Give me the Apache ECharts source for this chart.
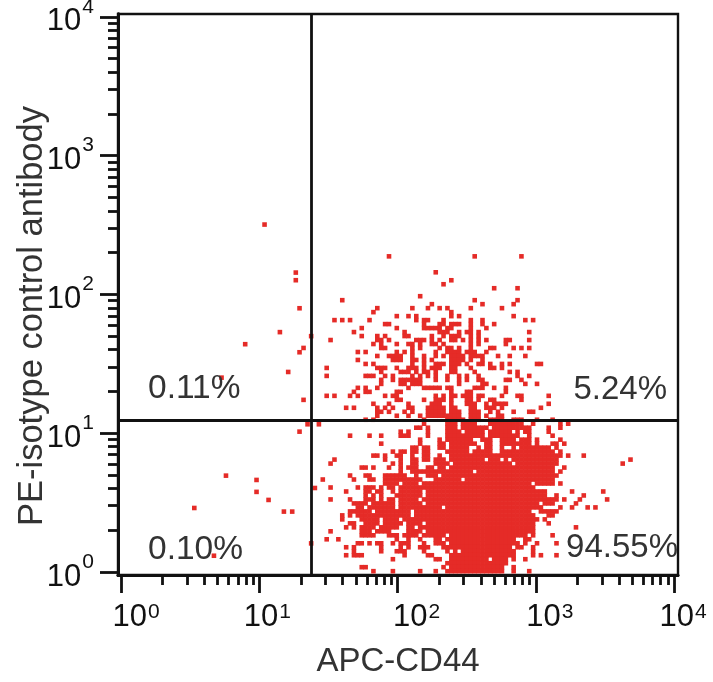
<!DOCTYPE html>
<html><head><meta charset="utf-8">
<style>html,body{margin:0;padding:0;background:#fff}#c{width:713px;height:682px}</style>
<script src="https://cdn.jsdelivr.net/npm/echarts@6/dist/echarts.min.js"></script>
</head><body><div id="c"></div>
<script>
// ---------- DATA ----------
const xTitle = 'APC-CD44';
const yTitle = 'PE-isotype control antibody';
const decades = [1, 10, 100, 1000, 10000];
const minorSteps = [2, 3, 4, 5, 6, 7, 8, 9];
const gateX = 23.8;
const gateY = 12.46;
const quadrantLabels = ['0.11%', '5.24%', '0.10%', '94.55%'];
// sparse events outside the main cloud, as [log10 APC, log10 PE]
const sparseEvents = [
 [1.038,2.503],[1.264,2.157],[1.264,2.102],[1.291,1.900],[1.149,1.728],[0.898,1.641],[1.320,1.614],[1.291,1.583],
 [1.209,1.441],[0.727,1.400],[1.320,1.240],[1.375,1.699],[1.349,1.064],[1.431,1.064],[1.291,1.011],[0.759,0.694],
 [0.980,0.663],[0.980,0.577],[1.067,0.519],[1.178,0.435],[1.238,0.435],[0.530,0.461],[1.402,0.605],[1.375,0.206],[0.672,0.117]
];
// main cloud as histogram channels, run-length coded: [PE channel, APC from, APC to, APC from, APC to, ...]
const channelRows = [
 [79,18,18,40,40,52,52],[75,30,30],[73,34,34],[72,32,32],[71,45,45,51,51],[69,26,26],[68,6,6,40,40,51,51],[67,29,29,42,42,50,50],
 [66,15,15,24,24,28,28,31,31,33,33,39,39,47,47],[65,14,14,34,34],[64,20,20,23,23,25,25,34,34,36,36,50,50],
 [63,4,4,6,6,8,8,13,13,25,25,27,28,32,32,39,39,42,42,53,53,55,55],
 [62,17,18,27,27,31,32,34,36,39,39,42,42,45,45],
 [61,11,11,20,20,27,29,30,31,33,34,39,39,43,43],
 [60,9,9,22,22,31,33,36,36,38,39,41,41,54,54],
 [59,11,11,15,15,17,17,22,23,29,29,32,32,34,36,39,39,41,41],
 [58,3,3,15,16,18,18,25,27,29,29,31,31,34,35,37,37,39,39,41,41,43,43,48,49,54,54],
 [57,14,14,16,16,20,20,23,24,26,26,29,30,32,32,39,39,41,41,48,48],
 [56,16,17,24,24,26,26,31,31,33,34,36,36,39,39,44,45,50,50,52,52,54,54],
 [55,10,10,12,12,20,20,22,22,24,24,30,30,33,36,38,40,43,43],
 [54,15,15,18,18,19,21,24,24,27,27,30,30,32,32,34,37,39,40,41,42,46,46,49,49,53,53],
 [53,10,10,19,21,24,25,27,27,29,29,34,37,39,39,42,42],
 [52,12,12,14,14,24,24,27,27,30,32,34,36,38,38,41,42,44,44,47,47,49,49,56,57],
 [51,2,2,15,17,20,20,23,25,27,27,29,31,34,35,39,39,44,45,47,47],
 [50,16,16,21,23,25,25,27,28,30,30,34,35,40,40,49,49,51,51],
 [49,2,2,12,14,17,17,19,19,24,24,26,26,28,28,30,30,33,33,36,36,38,38,41,41,51,51,54,54],
 [48,16,16,19,19,21,26,30,30,33,33,36,36,38,38,41,42,48,49,52,52],
 [47,16,16,21,22,24,26,36,36,42,43,53,53,56,56],
 [46,10,10,12,12,15,15,23,23,27,31,33,34,40,42,45,45,48,48],
 [45,9,9,12,13,20,21,34,34,38,39,48,48],
 [44,2,2,4,4,8,8,10,10,17,17,19,20,30,30,32,32,34,35,37,39,41,42,47,47,51,52,59,59],
 [43,20,21,27,27,30,32,34,34,38,39,41,41,44,45,52,52],
 [42,14,14,18,18,23,23,29,31,34,34,38,40,43,43,45,48,59,59],
 [41,7,7,9,9,15,15,17,17,19,19,23,24,28,32,34,35,39,40,43,45,47,47,57,57],
 [40,15,16,18,18,22,22,24,24,28,32,34,36,39,41,44,44,46,46,50,50,54,55],
 [39,15,15,20,20,23,23,26,26,28,36,39,41,43,43,46,47],
 [38,12,12,14,14,27,27,33,37,39,41,44,47,50,52,56,56,60,60],
 [37,27,27,33,35,37,37,38,40,44,46,47,52,55,55,62,62,64,64],
 [36,25,26,28,28,33,35,37,43,45,53,54,54,59,59,62,62],
 [35,21,21,23,23,28,28,33,36,38,42,44,49,51,51,53,54,59,59],
 [34,8,8,13,13,16,16,21,23,28,28,33,42,44,46,47,51,54,54,60,60],
 [33,26,26,31,31,33,39,42,44,47,50,52,54,56,56,62,62],
 [32,16,16,26,26,31,32,34,40,43,44,47,54,56,56,60,61,63,63],
 [31,24,25,27,28,31,32,34,38,41,41,43,44,47,47,50,50,52,59,61,61],
 [30,19,19,21,22,24,25,27,28,33,38,40,44,47,60,62,62],
 [29,14,15,17,17,20,21,24,24,27,28,31,31,34,62,64,64,68,68],
 [28,4,4,17,17,21,21,24,25,27,28,30,32,34,42,44,46,48,48,50,61,80,80],
 [27,3,3,19,19,21,21,24,25,30,33,35,49,51,61,78,78],
 [26,11,12,14,14,18,18,21,21,23,25,28,29,31,32,34,60,63,63],
 [25,21,21,24,34,35,39,41,60,62,62],
 [24,8,8,12,13,17,18,19,22,25,25,28,30,32,61],
 [23,1,1,9,9,13,14,17,18,19,26,30,36,38,60],
 [22,17,18,19,20,22,25,27,54,56,60,62,62],
 [21,3,3,10,10,12,14,16,16,18,19,21,55],
 [20,7,7,12,13,15,16,19,19,21,26,28,56,57,58,65,65,73,73],
 [19,12,12,14,14,16,16,20,20,21,26,28,58,61,61,68,68],
 [18,3,3,8,8,12,14,16,16,18,19,21,25,27,60,61,61,63,63,67,67,74,74],
 [17,9,12,14,19,21,26,28,56,58,60,66,66],
 [16,10,11,13,19,21,31,33,56,57,57,62,62,65,65,69,69,71,71],
 [15,8,8,9,13,15,23,25,54,57,60,61,61],
 [14,6,6,8,8,10,23,25,55,59,60],
 [13,6,6,11,15,17,20,22,56,58,58],
 [12,8,9,12,15,17,21,23,26,28,55,59,59],
 [11,7,7,9,9,11,14,16,18,19,20,23,24,26,55,66,66],
 [10,3,3,11,13,15,18,23,26,28,55],
 [9,11,14,18,20,22,25,27,32,34,53,55,55,60,60],
 [8,2,2,5,5,20,20,23,23,26,26,30,31,33,50,53,54],
 [7,10,11,13,13,15,16,19,19,21,23,27,27,30,32,34,50,51,51,53,53,56,56,61,61],
 [6,7,7,9,9,16,16,21,21,23,23,26,28,32,32,33,49,51,52,55,55],
 [5,9,9,16,16,20,22,27,27,33,33,35,35,37,49,50,50,55,55],
 [4,7,7,9,11,22,22,28,29,34,49,50,50,55,55,57,57,61,61],
 [3,19,19,30,31,34,37,38,43,45,48,50,50,53,53],
 [2,33,48],
 [1,11,12,32,32,34,47,50,50],
 [0,14,14,19,19,26,26,30,30,33,36,37,47,50,50,54,54]
];
// ---------- CHANNEL SCALE ----------
const channelsPerDecadeX = 35.5, channelOriginX = 50.8;
const channelsPerDecadeY = 34.83, channelOriginY = 0.2;
const points = [];
sparseEvents.forEach(p => points.push([Math.pow(10, p[0]), Math.pow(10, p[1])]));
channelRows.forEach(row => {
  const y = Math.pow(10, (row[0] + channelOriginY) / channelsPerDecadeY);
  for (let i = 1; i < row.length; i += 2)
    for (let c = row[i]; c <= row[i + 1]; c++)
      points.push([Math.pow(10, (c + channelOriginX) / channelsPerDecadeX), y]);
});
const minorValues = [];
decades.slice(0, -1).forEach(d => minorSteps.forEach(s => minorValues.push(d * s)));
const ink = '#111', labelInk = '#333', red = '#e52b27';
const xMin = 0.951, xMax = 10665, yMin = 0.951, yMax = 10470;
const supFmt = v => Math.round(Math.log10(v));
const xRich = {s: {fontSize: 21, fontFamily: 'Liberation Sans', color: ink, verticalAlign: 'top', padding: [0,0,0,1]}};
[30, 16, 38, 28, 18].forEach((pad, i) => { xRich['d' + i] = {fontSize: 31, fontFamily: 'Liberation Sans', color: ink, padding: [0, 0, 0, pad]}; });
const baseAxis = {axisLine: {show: true, lineStyle: {color: ink, width: 2.8}}, splitLine: {show: false}, minorTick: {show: false}};
const chart = echarts.init(document.getElementById('c'), null, {renderer: 'canvas'});
chart.setOption({
  animation: false,
  backgroundColor: '#fff',
  grid: {left: 118, right: 35, top: 14, bottom: 107, show: true, borderColor: ink, borderWidth: 2.4, containLabel: false, outerBoundsMode: 'none'},
  xAxis: [
    Object.assign({}, baseAxis, {type: 'log', logBase: 10, min: xMin, max: xMax, position: 'bottom',
      name: xTitle, nameLocation: 'middle', nameGap: 70, nameMoveOverlap: false, nameTextStyle: {fontSize: 33, fontFamily: 'Liberation Sans', color: labelInk},
      axisTick: {show: true, customValues: decades, length: 18, lineStyle: {color: ink, width: 2.8}},
      axisLabel: {customValues: decades, margin: 27, hideOverlap: false, showMinLabel: true, showMaxLabel: true, align: 'center',
        formatter: v => { const p = supFmt(v); return '{d' + p + '|10}{s|' + p + '}'; }, rich: xRich}}),
    Object.assign({}, baseAxis, {type: 'log', logBase: 10, min: xMin, max: xMax, position: 'bottom',
      axisTick: {show: true, customValues: minorValues, length: 10, lineStyle: {color: ink, width: 2.8}},
      axisLabel: {show: false}})
  ],
  yAxis: [
    Object.assign({}, baseAxis, {type: 'log', logBase: 10, min: yMin, max: yMax, position: 'left',
      name: yTitle, nameLocation: 'middle', nameGap: 68, nameMoveOverlap: false, nameTextStyle: {fontSize: 34.5, fontFamily: 'Liberation Sans', color: labelInk, padding: [0, 43, 0, 0]},
      axisTick: {show: true, customValues: decades, length: 18, lineStyle: {color: ink, width: 2.8}},
      axisLabel: {customValues: decades, margin: 24, hideOverlap: false, showMinLabel: true, showMaxLabel: true,
        formatter: v => '{b|10}{s|' + supFmt(v) + '}',
        rich: {b: {fontSize: 31, fontFamily: 'Liberation Sans', color: ink, padding: [10,0,0,0]}, s: {fontSize: 21, fontFamily: 'Liberation Sans', color: ink, verticalAlign: 'top', padding: [0,0,0,1]}}}}),
    Object.assign({}, baseAxis, {type: 'log', logBase: 10, min: yMin, max: yMax, position: 'left',
      axisTick: {show: true, customValues: minorValues, length: 10, lineStyle: {color: ink, width: 2.8}},
      axisLabel: {show: false}})
  ],
  series: [{
    type: 'scatter', data: points, symbol: 'rect', symbolSize: 4.6, itemStyle: {color: red, opacity: 1}, silent: true,
    markLine: {silent: true, symbol: 'none', label: {show: false}, animation: false,
      lineStyle: {color: ink, width: 2.8, type: 'solid'},
      data: [{xAxis: gateX}, {yAxis: gateY}]}
  }],
  graphic: [
    {type: 'text', left: 148, top: 372, z: 100, style: {text: quadrantLabels[0], fontSize: 33.5, fontFamily: 'Liberation Sans', fill: labelInk}},
    {type: 'text', right: 46, top: 373, z: 100, style: {text: quadrantLabels[1], fontSize: 33, fontFamily: 'Liberation Sans', fill: labelInk}},
    {type: 'text', left: 148, top: 533, z: 100, style: {text: quadrantLabels[2], fontSize: 33.5, fontFamily: 'Liberation Sans', fill: labelInk}},
    {type: 'text', right: 35, top: 531, z: 100, style: {text: quadrantLabels[3], fontSize: 33, fontFamily: 'Liberation Sans', fill: labelInk}}
  ]
});
</script></body></html>
